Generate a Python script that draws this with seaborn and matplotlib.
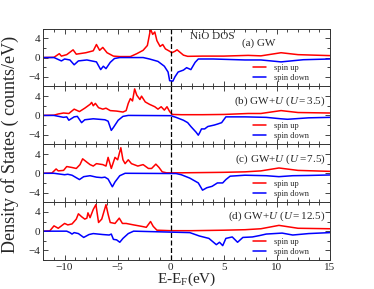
import numpy as np
import pandas as pd
import seaborn as sns
import matplotlib.pyplot as plt
from matplotlib.ticker import MultipleLocator

# ---- datos (E - E_F en eV, DOS en counts/eV) ----
a_up_x = [-12, -11.0, -10.5, -10.3, -9.8, -9.2, -8.9, -8.0, -7.3, -7.0, -6.7, -6.4, -6.0, -5.4, -4.8, -3.8,
          -3.2, -2.6, -2.2, -1.9, -1.7, -1.5, -1.3, -1.0, -0.75, -0.5, -0.1, 0.1, 0.4, 0.6, 1.2, 1.6, 3.0,
          5.0, 7.3, 8.5, 10.4, 12.0, 15]
a_up_y = [0, 0.05, 0.8, 0.3, 0.6, 1.6, 0.7, 1.0, 1.4, 2.7, 1.5, 2.1, 1.0, 0.3, 0.2, 0.2,
          0.8, 1.5, 2.5, 5.9, 4.8, 5.3, 3.5, 2.3, 2.7, 1.8, 1.3, 1.0, 1.3, 1.6, 0.5, 0.25, 0.3,
          0.3, 0.45, 0.35, 1.0, 0.6, 0.4]
a_dn_x = [-12, -11.0, -10.3, -10.0, -9.5, -9.1, -8.7, -7.9, -7.0, -6.6, -6.35, -6.1, -5.7, -5.3, -4.8,
          -2.6, -2.0, -1.2, -0.6, -0.25, -0.1, 0.2, 0.4, 0.7, 1.2, 1.5, 1.9, 2.3, 2.6, 4.0, 7.0, 8.5,
          10.4, 12.5, 15]
a_dn_y = [0, 0, -0.7, -0.3, -0.5, -1.5, -0.7, -0.5, -0.9, -2.5, -1.8, -2.3, -1.0, -0.2, 0,
          0, -0.3, -0.8, -1.8, -3.0, -4.8, -4.9, -4.0, -3.0, -2.6, -2.1, -2.5, -1.0, -0.3, -0.3, -0.5, -0.5,
          -0.9, -0.45, -0.3]

b_up_x = [-12, -11.0, -10.6, -10.1, -9.6, -9.1, -8.6, -8.1, -7.6, -7.45, -7.3, -7.1, -6.8, -6.4, -6.1,
          -5.7, -5.1, -4.5, -4.2, -4.0, -3.8, -3.6, -3.4, -3.2, -2.9, -2.75, -2.4, -2.0, -1.5, -1.2,
          -0.9, -0.6, -0.35, -0.1, 0.15, 1.0, 3.0, 5.0, 7.3, 8.5, 10.4, 12.0, 15]
b_up_y = [0, 0.05, 0.3, 0.5, 0.4, 1.3, 0.8, 1.5, 2.3, 2.7, 2.0, 2.5, 1.6, 1.3, 1.5,
          1.0, 0.9, 0.7, 1.0, 2.5, 3.5, 3.0, 5.5, 4.2, 3.3, 4.0, 2.8, 2.3, 1.8, 1.3,
          1.8, 1.1, 1.8, 0.8, 0.2, 0.15, 0.15, 0.2, 0.4, 0.4, 1.0, 0.6, 0.5]
b_dn_x = [-12, -11.0, -10.1, -9.8, -9.6, -9.1, -8.8, -8.4, -8.1, -7.3, -6.2, -5.9, -5.6, -5.4, -4.95,
          -4.5, -4.0, 0.0, 0.5, 1.2, 1.6, 1.9, 2.4, 2.6, 2.75, 2.9, 3.2, 3.5, 4.1, 4.4, 4.8, 5.2,
          7.0, 9.0, 10.4, 11.0, 13.0, 15]
b_dn_y = [0, 0, -0.4, -0.3, -1.0, -0.3, -0.2, -1.5, -0.9, -0.7, -0.9, -1.2, -3.1, -2.5, -1.0,
          -0.2, 0, -0.05, -0.4, -1.0, -1.5, -2.3, -3.5, -4.1, -3.5, -2.8, -2.8, -2.3, -2.0, -1.8, -1.5, -0.3,
          -0.3, -0.4, -0.7, -0.8, -0.5, -0.4]

c_up_x = [-12, -11.2, -10.8, -10.6, -10.1, -9.8, -9.3, -8.9, -8.55, -8.3, -7.9, -7.6, -7.3, -7.0, -6.4,
          -6.1, -5.9, -5.6, -5.25, -5.0, -4.7, -4.5, -4.3, -4.0, -3.7, -3.1, -2.6, -2.1, -1.8, -1.4,
          -1.1, -0.8, -0.4, 1.0, 3.0, 5.0, 7.0, 8.5, 10.2, 12.0, 15]
c_up_y = [0, 0.05, 0.9, 0.5, 0.6, 1.4, 1.2, 1.0, 1.8, 3.0, 2.3, 1.8, 1.5, 2.0, 1.8,
          1.5, 3.3, 1.0, 3.3, 2.8, 5.3, 2.8, 2.0, 2.8, 2.0, 1.5, 1.8, 1.0, 1.0, 1.9,
          1.2, 0.3, 0.1, 0.1, 0.15, 0.2, 0.3, 0.5, 1.1, 0.6, 0.4]
c_dn_x = [-12, -11.0, -10.0, -9.7, -9.3, -8.6, -8.2, -7.6, -7.0, -6.5, -6.2, -5.9, -5.5, -5.25, -4.8,
          -4.3, 0.5, 1.0, 1.8, 2.6, 3.0, 3.4, 3.9, 4.4, 4.9, 5.2, 5.6, 7.0, 9.0, 10.2, 11.5, 13.0, 15]
c_dn_y = [0, 0, -0.3, -0.2, -0.4, -1.3, -0.7, -0.5, -0.8, -0.9, -0.8, -1.2, -2.8, -1.8, -0.5,
          0, -0.05, -0.3, -1.0, -2.0, -3.5, -3.0, -2.7, -2.0, -2.0, -1.3, -0.6, -0.4, -0.5, -0.7, -0.5, -0.45, -0.35]

d_up_x = [-12, -11.4, -11.0, -10.6, -10.0, -9.7, -9.3, -8.9, -8.7, -8.4, -8.1, -7.9, -7.8, -7.6, -7.3,
          -7.05, -6.8, -6.5, -6.1, -5.9, -5.7, -5.25, -4.85, -4.55, -4.2, -3.5, -2.75, -2.3, -1.9,
          -1.65, -1.3, 0.0, 2.0, 5.0, 7.0, 8.5, 10.2, 12.0, 15]
d_up_y = [0, 0.05, 1.1, 0.6, 1.6, 1.3, 1.5, 2.5, 3.6, 3.0, 2.5, 2.7, 3.8, 2.8, 4.5,
          5.5, 1.8, 2.5, 5.5, 3.5, 1.8, 1.6, 2.7, 1.6, 1.6, 1.3, 1.0, 0.8, 2.0,
          1.0, 0.2, 0.1, 0.1, 0.2, 0.3, 0.5, 1.2, 0.6, 0.5]
d_dn_x = [-12, -9.8, -9.5, -9.3, -9.1, -8.7, -8.2, -7.7, -7.3, -6.4, -5.8, -5.6, -5.4, -5.1, -4.8,
          -4.5, -4.0, -3.5, 1.8, 2.7, 3.6, 4.3, 4.6, 4.9, 5.2, 5.8, 6.3, 6.8, 7.7, 8.4, 9.0, 10.5,
          11.5, 13.0, 15]
d_dn_y = [0, 0, -0.3, -0.6, -0.3, -0.5, -1.3, -0.7, -0.5, -0.7, -0.8, -0.6, -1.7, -1.8, -2.3,
          -1.5, -0.5, 0, -0.3, -1.0, -1.5, -2.8, -2.3, -3.0, -1.5, -1.2, -2.3, -1.3, -1.2, -0.9, -0.6, -0.4,
          -0.8, -0.5, -0.3]

etiquetas = ["(a) GW",
             r"(b) GW+$\mathit{U}$ $\mathit{(U{=}3.5)}$",
             r"(c) GW+$\mathit{U}$ $\mathit{(U{=}7.5)}$",
             r"(d) GW+$\mathit{U}$ $\mathit{(U{=}12.5)}$"]
paneles = [(a_up_x, a_up_y, a_dn_x, a_dn_y),
           (b_up_x, b_up_y, b_dn_x, b_dn_y),
           (c_up_x, c_up_y, c_dn_x, c_dn_y),
           (d_up_x, d_up_y, d_dn_x, d_dn_y)]

sns.set_style("ticks")
plt.rcParams['font.family'] = ['Liberation Serif', 'DejaVu Serif']
plt.rcParams['mathtext.fontset'] = 'custom'
plt.rcParams['mathtext.rm'] = 'Liberation Serif'
plt.rcParams['mathtext.it'] = 'Liberation Serif:italic'

fig, axes = plt.subplots(4, 1, sharex=True, figsize=(3.74, 2.89), dpi=100)
fig.subplots_adjust(left=0.116, right=0.882, top=0.901, bottom=0.1, hspace=0)

for i, ax in enumerate(axes):
    ux, uy, dx, dy = paneles[i]
    sns.lineplot(x=ux, y=uy, ax=ax, color='#ff0000', lw=1.1, label='spin up', sort=False)
    sns.lineplot(x=dx, y=dy, ax=ax, color='#0000ff', lw=1.1, label='spin down', sort=False)
    ax.axvline(0, color='black', lw=0.9, dashes=(4, 2))
    ax.set_xlim(-12, 15)
    ax.set_ylim(-6, 6)
    ax.set_yticks([-4, 0, 4])
    ax.yaxis.set_minor_locator(MultipleLocator(2))
    ax.xaxis.set_major_locator(MultipleLocator(5))
    ax.xaxis.set_minor_locator(MultipleLocator(1))
    ax.tick_params(which='both', direction='in', top=True, right=True, labelsize=8, width=0.6, pad=2)
    ax.tick_params(which='major', length=3.5)
    ax.tick_params(which='minor', length=2)
    for s in ax.spines.values():
        s.set_linewidth(0.7)
        s.set_color('#333333')
    ax.legend(loc='lower right', bbox_to_anchor=(0.94, 0.02), frameon=False, fontsize=6,
              handlelength=1.6, handletextpad=1.0, labelspacing=0.25, borderaxespad=0)
    if i == 0:
        ax.text(6.7, 3.0, etiquetas[i], fontsize=8, va='center', ha='left')
        ax.text(1.8, 4.4, "NiO DOS", fontsize=8, va='center', ha='left')
    else:
        ax.text(14.6, 3.0, etiquetas[i], fontsize=8, va='center', ha='right')

axes[-1].set_xlabel(r"E-E$_\mathregular{F}$(eV)", fontsize=11, labelpad=-1)
fig.text(0.028, 0.5, "Density of States ( counts/eV)", rotation=90, va='center', ha='center', fontsize=13)

plt.savefig("out.png", dpi=100)
